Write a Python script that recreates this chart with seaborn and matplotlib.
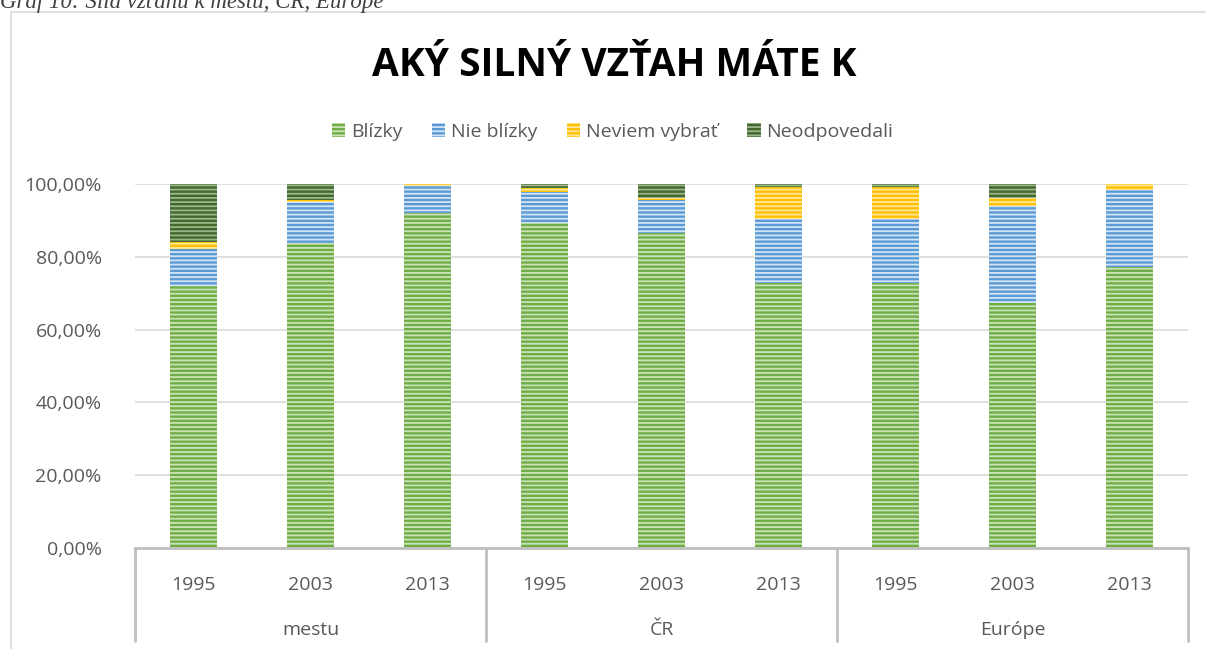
import numpy as np
import pandas as pd
import seaborn as sns
import matplotlib.pyplot as plt
import matplotlib
from matplotlib.patches import Rectangle, Patch
from matplotlib.lines import Line2D
from matplotlib.ticker import FuncFormatter

sns.set_style("white")
plt.rcParams['font.family'] = ['Open Sans', 'DejaVu Sans']
plt.rcParams['hatch.linewidth'] = 1.3

# data (percent)
groups = ['mestu', 'ČR', 'Európe']
years = ['1995', '2003', '2013']
blizky = [72.0, 83.7, 92.0, 89.4, 86.4, 72.9, 72.9, 67.4, 77.3]
nie_blizky = [10.2, 11.4, 7.5, 8.4, 9.3, 17.5, 17.5, 26.6, 21.1]
neviem = [1.9, 0.4, 0.5, 1.2, 0.5, 8.7, 8.7, 2.1, 1.6]
neodpovedali = [15.9, 4.5, 0.0, 1.0, 3.8, 0.9, 0.9, 3.9, 0.0]

series = ['Blízky', 'Nie blízky', 'Neviem vybrať', 'Neodpovedali']
colors = ['#70AD47', '#5B9BD5', '#FFC000', '#43682B']
hatch_colors = ['#C9E3B8', '#D3E4F5', '#FFE699', '#9DB58C']

labels = [f'{g} {y}' for g in groups for y in years]
df = pd.DataFrame({'label': labels, 'Blízky': blizky, 'Nie blízky': nie_blizky,
                   'Neviem vybrať': neviem, 'Neodpovedali': neodpovedali})
cum = df[series].cumsum(axis=1)

fig = plt.figure(figsize=(12.06, 6.49), dpi=100)
ax = fig.add_axes([0.112, 0.1556, 0.873, 0.5609])

# stacked bars by overlaying cumulative totals, top segment first
for s, c, hc in reversed(list(zip(series, colors, hatch_colors))):
    sns.barplot(x=df['label'], y=cum[s], order=labels, color=c, width=0.4,
                saturation=1, ax=ax, edgecolor=hc, linewidth=0, hatch='----')

ax.set_xlim(-0.5, 8.5)
ax.set_ylim(0, 100)
ax.set_yticks(np.arange(0, 101, 20))
ax.yaxis.set_major_formatter(FuncFormatter(lambda v, p: f'{v:.2f}'.replace('.', ',') + '%'))
ax.grid(axis='y', color='#D9D9D9', linewidth=1.2)
ax.set_axisbelow(True)
for sp in ['top', 'right', 'left']:
    ax.spines[sp].set_visible(False)
ax.spines['bottom'].set_color('#BFBFBF')
ax.spines['bottom'].set_linewidth(2)
ax.set_xlabel('')
ax.set_ylabel('')
ax.tick_params(axis='y', length=0, pad=24, labelsize=14, labelcolor='#595959')
ax.set_xticks(range(9))
ax.set_xticklabels(years * 3)
ax.tick_params(axis='x', length=0, pad=20, labelsize=14, labelcolor='#595959')

# group labels and separators below the axis
trans = matplotlib.transforms.blended_transform_factory(ax.transData, ax.transAxes)
for i, g in enumerate(groups):
    ax.text(i * 3 + 1, -0.225, g, transform=trans, ha='center', va='center',
            fontsize=14, color='#595959')
for xs in [-0.5, 2.5, 5.5, 8.5]:
    ax.add_line(Line2D([xs, xs], [0, -0.255], transform=trans, color='#BFBFBF',
                       linewidth=2, clip_on=False))

# chart frame and caption
fig.patches.append(Rectangle((11 / 1206, -0.1), 1.2, 1 - 12 / 649 + 0.1,
                             transform=fig.transFigure, fill=False,
                             edgecolor='#D9D9D9', linewidth=1.2))
fig.text(0.0, 1 - 8 / 649, 'Graf 10: Sila vzťahu k mestu, ČR, Európe', fontsize=16.5,
         family=['Liberation Serif'], style='italic', color='#404040', va='baseline')

fig.text(0.509, 1 - 65 / 649, 'AKÝ SILNÝ VZŤAH MÁTE K', ha='center', va='center',
         fontsize=28, fontweight='bold', color='black')

handles = [Patch(facecolor=c, edgecolor=hc, hatch='----', linewidth=0)
           for c, hc in zip(colors, hatch_colors)]
fig.legend(handles, series, loc='center', bbox_to_anchor=(0.508, 1 - 132 / 649),
           ncol=4, frameon=False, fontsize=14, handlelength=0.7, handleheight=0.7,
           handletextpad=0.3, columnspacing=1.5, labelcolor='#595959')

fig.savefig('out.png', dpi=100)
